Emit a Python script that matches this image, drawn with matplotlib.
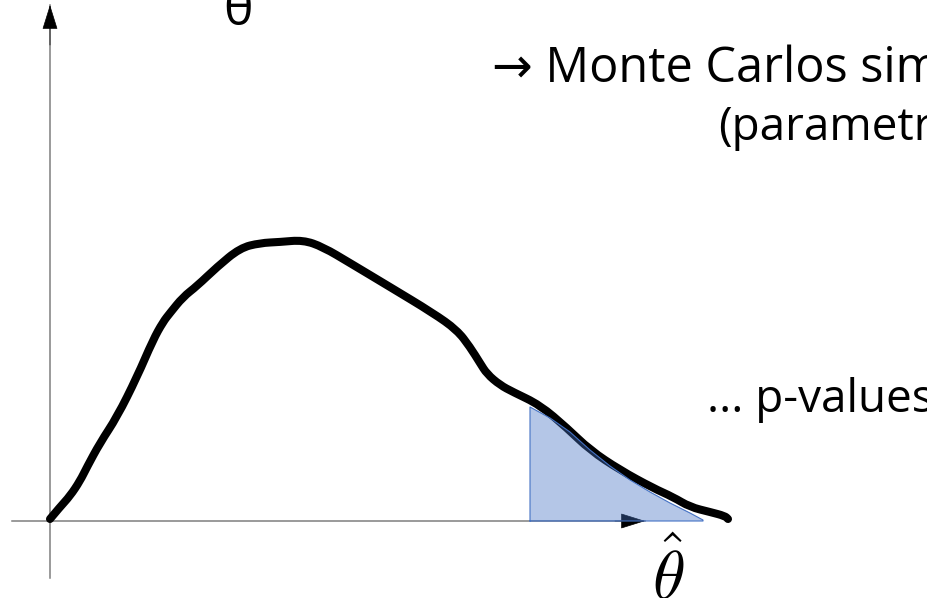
import matplotlib
matplotlib.use("Agg")
import matplotlib.pyplot as plt
from matplotlib.path import Path
from matplotlib.patches import PathPatch

plt.rcParams["mathtext.fontset"] = "cm"
TEXT_FONT = ["Open Sans", "DejaVu Sans"]

# sketched sampling density of the statistic (theta units, density units)
curve_x = [0.00, 0.10, 0.20, 0.30, 0.37, 0.50, 0.67, 0.87, 1.03, 1.13, 1.20, 1.33,
           1.47, 1.67, 1.90, 2.10, 2.30, 2.53, 2.73, 3.00, 3.40, 3.83, 4.07, 4.20,
           4.30, 4.37, 4.50, 4.63, 4.90, 5.17, 5.40, 5.70, 6.03, 6.23, 6.40, 6.60,
           6.75, 6.78]
curve_y = [0.02, 0.14, 0.25, 0.40, 0.54, 0.78, 1.04, 1.44, 1.81, 1.99, 2.08, 2.24,
           2.35, 2.54, 2.73, 2.78, 2.79, 2.81, 2.74, 2.58, 2.34, 2.08, 1.91, 1.74,
           1.58, 1.47, 1.36, 1.29, 1.16, 0.93, 0.71, 0.51, 0.33, 0.24, 0.14, 0.09,
           0.05, 0.02]

# upper tail beyond the observed value (shaded p-value area)
tail_x = [4.80, 5.00, 5.20, 5.40, 5.60, 5.80, 6.00, 6.20, 6.40, 6.53]
tail_y = [1.14, 1.03, 0.89, 0.71, 0.55, 0.41, 0.29, 0.18, 0.08, 0.01]

x_axis = [-0.38, 5.95]
y_axis = [-0.57, 5.16]


def smooth_path(xs, ys):
    """Quadratic Bezier chain through the midpoints, points used as controls."""
    pts = list(zip(xs, ys))
    verts = [pts[0]]
    codes = [Path.MOVETO]
    for i in range(1, len(pts) - 1):
        mid = ((pts[i][0] + pts[i + 1][0]) / 2, (pts[i][1] + pts[i + 1][1]) / 2)
        verts += [pts[i], mid]
        codes += [Path.CURVE3, Path.CURVE3]
    verts.append(pts[-1])
    codes.append(Path.LINETO)
    return Path(verts, codes)


fig = plt.figure(figsize=(9.28, 5.98), dpi=100)
ax = fig.add_axes([0, 0, 1, 1])
ax.set_xlim(-0.5, 8.78)
ax.set_ylim(-0.77, 5.21)
ax.axis("off")

axis_color = "#7f7f7f"
head = dict(arrowstyle="-|>,head_length=1.6,head_width=0.5", mutation_scale=10,
            color="black", shrinkA=0, shrinkB=0, lw=0.5)

ax.plot(x_axis, [0, 0], color=axis_color, lw=1.1, zorder=1)
ax.plot([0, 0], y_axis, color=axis_color, lw=1.1, zorder=1)
ax.annotate("", xy=(x_axis[1], 0), xytext=(x_axis[1] - 0.3, 0),
            arrowprops=head, zorder=2)
ax.annotate("", xy=(0, y_axis[1]), xytext=(0, y_axis[1] - 0.4),
            arrowprops=head, zorder=2)

ax.add_patch(PathPatch(smooth_path(curve_x, curve_y), facecolor="none",
                       edgecolor="black", lw=5.8, capstyle="round",
                       joinstyle="round", zorder=3))

ax.fill_between(tail_x, 0, tail_y, facecolor="#4472c4", alpha=0.4,
                edgecolor="none", zorder=4)
ax.plot([tail_x[0]] + tail_x + [tail_x[-1], tail_x[0]],
        [0] + tail_y + [0, 0], color="#4472c4", lw=0.8, zorder=5)

ax.text(1.88, 4.96, "θ", fontsize=36, family=TEXT_FONT, ha="center", va="baseline")
ax.text(4.42, 4.39, "→ Monte Carlos simulation", fontsize=35, family=TEXT_FONT,
        ha="left", va="baseline")
ax.text(6.68, 3.81, "(parametric)", fontsize=33, family=TEXT_FONT,
        ha="left", va="baseline")
ax.text(6.57, 1.09, "... p-values", fontsize=33, family=TEXT_FONT,
        ha="left", va="baseline")
ax.text(6.18, -0.78, r"$\hat{\theta}$", fontsize=48, ha="center", va="baseline")

fig.savefig("out.png", dpi=100)
